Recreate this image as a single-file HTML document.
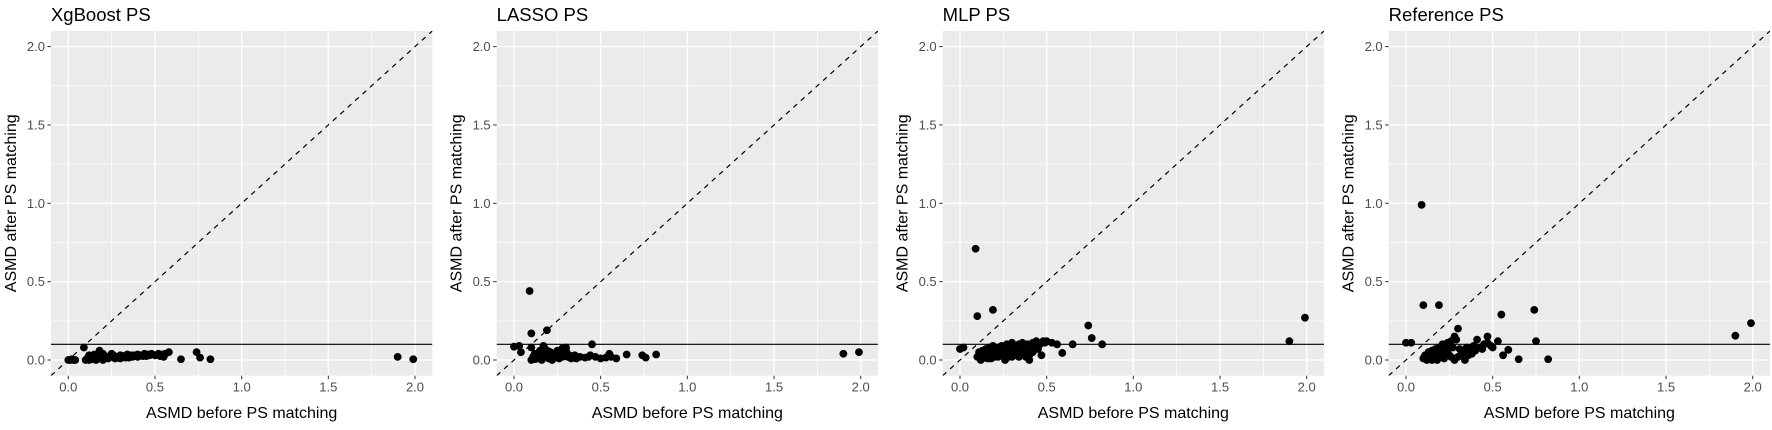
<!DOCTYPE html>
<html><head><meta charset="utf-8">
<style>
html,body{margin:0;padding:0;background:#fff;}
svg{display:block;font-family:"Liberation Sans",Arial,sans-serif;}
</style></head>
<body>
<svg id="chart" width="1772" height="430" viewBox="0 0 1772 430" xmlns="http://www.w3.org/2000/svg"></svg>
<script>
const panelTitles = ["XgBoost PS","LASSO PS","MLP PS","Reference PS"];
const xTicks = [0,0.5,1,1.5,2];
const xTickLabels = ["0.0","0.5","1.0","1.5","2.0"];
const yTicks = [0,0.5,1,1.5,2];
const yTickLabels = ["0.0","0.5","1.0","1.5","2.0"];
const threshold = 0.1;

const xgbX = [0.0,0.01,0.02,0.03,0.04,0.09,0.1,0.11,0.12,0.13,0.14,0.15,0.16,0.17,0.18,0.19,0.2,0.21,0.22,0.23,0.24,0.25,0.26,0.28,0.3,0.32,0.34,0.36,0.38,0.4,0.42,0.44,0.46,0.48,0.5,0.52,0.54,0.56,0.58,0.12,0.15,0.2,0.25,0.3,0.35,0.4,0.45,0.5,0.55,0.18,0.65,0.74,0.76,0.82,1.9,1.99,0.27,0.29,0.31,0.33,0.37,0.43,0.47,0.53];
const xgbY = [0.0,0.0,0.005,0.0,0.0,0.08,0.0,0.01,0.0,0.015,0.005,0.02,0.0,0.02,0.01,0.025,0.0,0.015,0.02,0.01,0.025,0.02,0.03,0.02,0.03,0.025,0.035,0.03,0.03,0.035,0.03,0.04,0.035,0.04,0.03,0.04,0.035,0.04,0.05,0.03,0.035,0.04,0.04,0.01,0.015,0.02,0.025,0.03,0.02,0.06,0.005,0.05,0.015,0.005,0.02,0.005,0.01,0.015,0.02,0.015,0.02,0.025,0.03,0.025];

const lassoX = [0.0,0.03,0.04,0.09,0.1,0.19,0.1,0.17,0.45,0.1,0.11,0.12,0.13,0.14,0.15,0.16,0.17,0.18,0.19,0.2,0.21,0.22,0.23,0.24,0.25,0.26,0.27,0.28,0.29,0.3,0.31,0.33,0.35,0.38,0.41,0.44,0.47,0.5,0.53,0.56,0.59,0.15,0.18,0.22,0.26,0.3,0.14,0.2,0.28,0.55,0.65,0.74,0.76,0.82,1.9,1.99,0.12,0.16,0.21,0.24,0.32,0.36,0.43];
const lassoY = [0.085,0.09,0.05,0.44,0.17,0.19,0.08,0.09,0.1,0.0,0.02,0.005,0.03,0.01,0.04,0.0,0.06,0.02,0.03,0.01,0.05,0.0,0.03,0.02,0.06,0.01,0.04,0.02,0.07,0.08,0.02,0.01,0.03,0.02,0.015,0.03,0.02,0.01,0.015,0.02,0.01,0.06,0.07,0.04,0.05,0.06,0.045,0.055,0.075,0.04,0.035,0.03,0.015,0.035,0.04,0.05,0.04,0.03,0.02,0.04,0.03,0.01,0.02];

const mlpX = [0.0,0.02,0.09,0.1,0.19,0.1,0.11,0.12,0.13,0.14,0.15,0.16,0.17,0.18,0.19,0.2,0.21,0.22,0.23,0.24,0.25,0.26,0.27,0.28,0.29,0.3,0.31,0.32,0.33,0.34,0.35,0.36,0.37,0.38,0.39,0.4,0.41,0.42,0.43,0.44,0.45,0.46,0.47,0.48,0.49,0.12,0.16,0.2,0.24,0.28,0.32,0.36,0.4,0.44,0.14,0.22,0.3,0.38,0.5,0.53,0.56,0.59,0.65,0.74,0.76,0.82,1.9,1.99,0.13,0.18,0.26,0.34,0.42];
const mlpY = [0.07,0.08,0.71,0.28,0.32,0.02,0.05,0.0,0.06,0.03,0.07,0.01,0.08,0.04,0.09,0.02,0.06,0.08,0.03,0.09,0.05,0.07,0.1,0.02,0.08,0.11,0.05,0.09,0.03,0.1,0.07,0.11,0.04,0.08,0.1,0.0,0.06,0.11,0.09,0.12,0.07,0.1,0.03,0.12,0.11,0.03,0.04,0.05,0.04,0.06,0.06,0.08,0.03,0.08,0.015,0.02,0.02,0.02,0.12,0.11,0.1,0.045,0.1,0.22,0.14,0.1,0.12,0.27,0.01,0.01,0.0,0.02,0.05];

const refX = [0.0,0.03,0.09,0.1,0.19,0.3,0.55,0.74,0.75,0.56,0.59,0.65,0.82,1.9,1.99,0.47,0.28,0.1,0.11,0.12,0.13,0.14,0.15,0.16,0.17,0.18,0.19,0.2,0.21,0.22,0.23,0.24,0.25,0.26,0.27,0.29,0.31,0.33,0.35,0.37,0.39,0.41,0.43,0.45,0.47,0.49,0.5,0.53,0.12,0.16,0.2,0.24,0.28,0.32,0.36,0.4,0.44,0.15,0.22,0.3,0.34,0.13,0.18,0.26,0.38];
const refY = [0.11,0.11,0.99,0.35,0.35,0.2,0.29,0.32,0.12,0.03,0.065,0.005,0.005,0.155,0.235,0.15,0.15,0.01,0.03,0.0,0.05,0.02,0.06,0.01,0.07,0.04,0.08,0.02,0.1,0.06,0.09,0.11,0.03,0.12,0.08,0.13,0.07,0.05,0.08,0.06,0.09,0.13,0.08,0.1,0.11,0.09,0.08,0.12,0.02,0.03,0.04,0.05,0.0,0.04,0.03,0.06,0.07,0.0,0.01,0.02,0.0,0.01,0.0,0.02,0.04];

const seriesX = [xgbX, lassoX, mlpX, refX];
const seriesY = [xgbY, lassoY, mlpY, refY];
const panelX0 = [68.3, 514, 960, 1406];
const pxPerX = 173.35;
const yZeroPx = 360, pxPerY = 156.7;
const NS = "http://www.w3.org/2000/svg";
const svg = document.getElementById('chart');

function mk(tag, attrs, parent){
  const e = document.createElementNS(NS, tag);
  for (const k in attrs) e.setAttribute(k, attrs[k]);
  (parent||svg).appendChild(e);
  return e;
}

for (let p = 0; p < 4; p++) {
  const sx = v => panelX0[p] + v * pxPerX;
  const sy = v => yZeroPx - v * pxPerY;
  const L = sx(-0.1), R = sx(2.1), T = sy(2.1), B = sy(-0.1);
  const g = mk('g', {});
  
  
  const clipId = 'clip' + p;
  const cp = mk('clipPath', {id: clipId}, g);
  mk('rect', {x: L, y: T, width: R - L, height: B - T}, cp);
  const bg = mk('rect', {x: L, y: T, width: R - L, height: B - T, fill: '#ebebeb'}, g);
  
  
  [0.25, 0.75, 1.25, 1.75].forEach(v => {
    mk('line', {x1: sx(v), x2: sx(v), y1: T, y2: B, stroke: '#fff', 'stroke-width': 0.7}, g);
    mk('line', {x1: L, x2: R, y1: sy(v), y2: sy(v), stroke: '#fff', 'stroke-width': 0.7}, g);
  });
  xTicks.forEach((v, i) => {
    mk('line', {x1: sx(v), x2: sx(v), y1: T, y2: B, stroke: '#fff', 'stroke-width': 1.4}, g);
    mk('line', {x1: sx(v), x2: sx(v), y1: B, y2: B + 3.5, stroke: '#333', 'stroke-width': 1}, g);
    const t = mk('text', {x: sx(v), y: B + 16, 'text-anchor': 'middle', 'font-size': 13, fill: '#4d4d4d'}, g);
    t.textContent = xTickLabels[i];
    
    
  });
  yTicks.forEach((v, i) => {
    mk('line', {x1: L, x2: R, y1: sy(v), y2: sy(v), stroke: '#fff', 'stroke-width': 1.4}, g);
    mk('line', {x1: L - 3.5, x2: L, y1: sy(v), y2: sy(v), stroke: '#333', 'stroke-width': 1}, g);
    const t = mk('text', {x: L - 6, y: sy(v) + 4.5, 'text-anchor': 'end', 'font-size': 13, fill: '#4d4d4d'}, g);
    t.textContent = yTickLabels[i];
    
    
  });
  const inner = mk('g', {'clip-path': 'url(#' + clipId + ')'}, g);
  const diag = mk('line', {x1: sx(-0.1), y1: sy(-0.1), x2: sx(2.1), y2: sy(2.1), stroke: '#000', 'stroke-width': 1.2, 'stroke-dasharray': '5,5'}, inner);
  
  
  const hl = mk('line', {x1: L, x2: R, y1: sy(threshold), y2: sy(threshold), stroke: '#000', 'stroke-width': 1.2}, inner);
  
  
  const xs = seriesX[p], ys = seriesY[p];
  for (let i = 0; i < xs.length; i++) {
    const c = mk('circle', {cx: sx(xs[i]), cy: sy(ys[i]), r: 3.9, fill: '#000'}, inner);
    
    
  }
  const title = mk('text', {x: L, y: 21, 'font-size': 18.5, fill: '#000'}, g);
  title.textContent = panelTitles[p];
  
  
  const xt = mk('text', {x: (L + R) / 2, y: 418, 'text-anchor': 'middle', 'font-size': 16, fill: '#000'}, g);
  xt.textContent = 'ASMD before PS matching';
  
  
  const yx = L - 35, yy = (T + B) / 2;
  const yt = mk('text', {x: yx, y: yy, 'text-anchor': 'middle', 'font-size': 16, fill: '#000', transform: 'rotate(-90 ' + yx + ' ' + yy + ')'}, g);
  yt.textContent = 'ASMD after PS matching';
  
  
}
</script>
</body></html>
